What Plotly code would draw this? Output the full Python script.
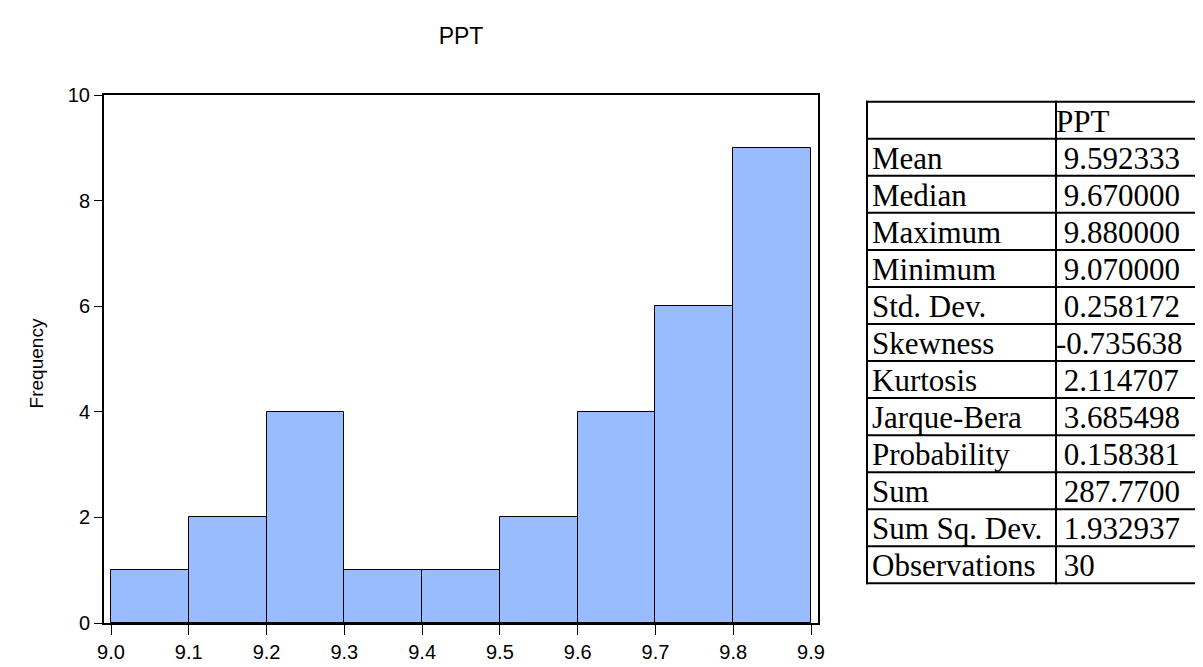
import plotly.graph_objects as go

# ---- data ----
bin_edges = [9.0, 9.1, 9.2, 9.3, 9.4, 9.5, 9.6, 9.7, 9.8, 9.9]
counts = [1, 2, 4, 1, 1, 2, 4, 6, 9]
x_ticks = [9.0, 9.1, 9.2, 9.3, 9.4, 9.5, 9.6, 9.7, 9.8, 9.9]
y_ticks = [0, 2, 4, 6, 8, 10]
series_name = "PPT"
y_title = "Frequency"
stat_labels = ["Mean", "Median", "Maximum", "Minimum", "Std. Dev.", "Skewness",
               "Kurtosis", "Jarque-Bera", "Probability", "Sum", "Sum Sq. Dev.", "Observations"]
stat_values = [" 9.592333", " 9.670000", " 9.880000", " 9.070000", " 0.258172", "-0.735638",
               " 2.114707", " 3.685498", " 0.158381", " 287.7700", " 1.932937", " 30"]

W, H = 1203, 667
L, R, T, B = 96, 810, 87, 630
PW, PH = R - L, B - T

centers = [(bin_edges[i] + bin_edges[i + 1]) / 2 for i in range(len(counts))]
widths = [bin_edges[i + 1] - bin_edges[i] for i in range(len(counts))]

fig = go.Figure()
fig.add_trace(go.Bar(
    x=centers, y=counts, width=widths,
    marker=dict(color="#99BCFF", line=dict(color="black", width=1)),
    showlegend=False, hoverinfo="skip",
))

def px(xp):
    return (xp - L) / PW

def py(yp):
    return (B - yp) / PH

# table geometry (pixels)
tx0, tdiv, tx1 = 859, 1048, 1215
ttop, thead = 94, 132
row_h = 38.1
shapes = []
annotations = []
n = len(stat_labels)
bottom = thead + n * row_h
ys = [ttop, thead] + [thead + (i + 1) * row_h for i in range(n)]
for yy in ys:
    shapes.append(dict(type="line", xref="paper", yref="paper",
                       x0=px(tx0 - 1), x1=px(tx1), y0=py(yy), y1=py(yy),
                       line=dict(color="black", width=2)))
for xx in [tx0, tdiv]:
    shapes.append(dict(type="line", xref="paper", yref="paper",
                       x0=px(xx), x1=px(xx), y0=py(ttop - 1), y1=py(bottom + 1),
                       line=dict(color="black", width=2)))

tfont = dict(family="Liberation Serif, Times New Roman, serif", size=31, color="black")
annotations.append(dict(xref="paper", yref="paper", x=px(tdiv), y=py((ttop + thead) / 2 + 1),
                        text=series_name, showarrow=False, xanchor="left", yanchor="middle",
                        font=tfont, xshift=-2))
for i, (lab, val) in enumerate(zip(stat_labels, stat_values)):
    yc = thead + (i + 0.5) * row_h + 1
    annotations.append(dict(xref="paper", yref="paper", x=px(tx0 + 3), y=py(yc),
                            text=lab, showarrow=False, xanchor="left", yanchor="middle",
                            font=tfont))
    annotations.append(dict(xref="paper", yref="paper", x=px(tdiv), y=py(yc),
                            text=val.replace(" ", "&nbsp;"), showarrow=False, xanchor="left",
                            yanchor="middle", font=tfont, xshift=-2))

annotations.append(dict(xref="paper", yref="paper", x=px(28), y=py(363),
                        text=y_title, textangle=-90, showarrow=False,
                        xanchor="center", yanchor="middle",
                        font=dict(family="Liberation Sans, Arial, sans-serif", size=19,
                                  color="black")))

fig.update_layout(
    width=W, height=H,
    margin=dict(l=L, r=W - R, t=T, b=H - B, pad=0),
    paper_bgcolor="white", plot_bgcolor="white",
    font=dict(family="Liberation Sans, Arial, sans-serif", size=20, color="black"),
    title=dict(text=series_name, x=(L + R) / 2 / W, xanchor="center",
               y=1 - 28 / H, yanchor="middle", yref="container",
               font=dict(size=23, family="Liberation Sans, Arial, sans-serif")),
    bargap=0,
    shapes=shapes,
    annotations=annotations,
    xaxis=dict(range=[8.991, 9.909], tickvals=x_ticks, tickformat=".1f",
               ticks="outside", ticklen=10, tickwidth=1, tickcolor="black",
               showline=True, linecolor="black", linewidth=2, mirror=True,
               showgrid=False, zeroline=False, fixedrange=True),
    yaxis=dict(range=[0, 10], tickvals=y_ticks, ticks="outside", ticklen=8,
               tickwidth=1, tickcolor="black",
               showline=True, linecolor="black", linewidth=2, mirror=True,
               showgrid=False, zeroline=False, fixedrange=True),
)

fig.write_html("out.html")
